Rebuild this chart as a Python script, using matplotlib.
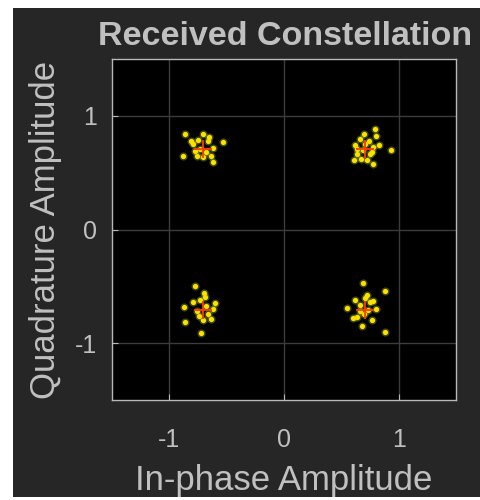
import numpy as np
import matplotlib
matplotlib.use('Agg')
import matplotlib.pyplot as plt
from matplotlib.patches import Rectangle

# Received symbols (in-phase / quadrature)
rx_i = [
    # upper left
    -0.79, -0.75, -0.71, -0.66, -0.78, -0.68, -0.62, -0.73, -0.65, -0.81, -0.64, -0.71, -0.76, -0.88, -0.53, -0.62, -0.86,
    # upper right
    0.62, 0.66, 0.70, 0.74, 0.78, 0.64, 0.69, 0.75, 0.80, 0.67, 0.72, 0.77, 0.64, 0.71, 0.93, 0.79, 0.61, 0.78, 0.83,
    # lower left
    -0.78, -0.69, -0.60, -0.87, -0.86, -0.72, -0.64, -0.73, -0.68, -0.76, -0.66, -0.71, -0.79, -0.62, -0.70, -0.74,
    # lower right
    0.69, 0.88, 0.88, 0.55, 0.62, 0.66, 0.71, 0.75, 0.80, 0.64, 0.70, 0.77, 0.68, 0.73, 0.60, 0.78, 0.72, 0.66,
]
rx_q = [
    0.75, 0.79, 0.84, 0.78, 0.69, 0.68, 0.72, 0.71, 0.81, 0.78, 0.65, 0.64, 0.65, 0.65, 0.77, 0.59, 0.84,
    0.74, 0.80, 0.84, 0.78, 0.73, 0.66, 0.70, 0.66, 0.82, 0.62, 0.61, 0.68, 0.71, 0.75, 0.70, 0.88, 0.61, 0.58, 0.74,
    -0.50, -0.59, -0.65, -0.68, -0.81, -0.91, -0.79, -0.62, -0.67, -0.72, -0.74, -0.80, -0.64, -0.70, -0.56, -0.76,
    -0.47, -0.54, -0.90, -0.69, -0.62, -0.66, -0.60, -0.64, -0.70, -0.77, -0.74, -0.80, -0.85, -0.71, -0.78, -0.63, -0.58, -0.72,
]

# Ideal QPSK reference points
ref_i = [-0.7071, 0.7071, -0.7071, 0.7071]
ref_q = [0.7071, 0.7071, -0.7071, -0.7071]

ticks = [-1, 0, 1]
txt = '#c0c0c0'

plt.rcParams['font.family'] = ['Liberation Sans', 'DejaVu Sans']
plt.rcParams['axes.unicode_minus'] = False

fig = plt.figure(figsize=(4.8, 5.0), dpi=100)
fig.patch.set_facecolor('white')
fig.patches.append(Rectangle((13 / 480, 3 / 500), 1 - 13 / 480, 489 / 500,
                             transform=fig.transFigure, facecolor='#262626',
                             edgecolor='none', zorder=-10))

ax = fig.add_axes([112 / 480, 1 - 400 / 500, 344 / 480, 341 / 500])
ax.set_facecolor('black')

ax.scatter(rx_i, rx_q, s=34, color='#9cc000', alpha=0.4, linewidths=0, zorder=2)
ax.scatter(rx_i, rx_q, s=14, color='#ffe000', linewidths=0, zorder=3)
ax.plot(ref_i, ref_q, '+', color='#ff3a10', markersize=13, mew=1.3, zorder=4)

ax.set_xlim(-1.5, 1.5)
ax.set_ylim(-1.5, 1.5)
ax.set_xticks(ticks)
ax.set_yticks(ticks)
ax.grid(True, color='#3c3c3c', linewidth=1)
ax.set_axisbelow(True)
for sp in ax.spines.values():
    sp.set_color('#b8b8b8')
    sp.set_linewidth(1)
ax.tick_params(direction='in', colors='#b8b8b8', labelcolor=txt, labelsize=18, length=4)
ax.tick_params(axis='x', pad=20)
ax.tick_params(axis='y', pad=11)

ax.set_xlabel('In-phase Amplitude', color=txt, fontsize=25, labelpad=9)
ax.set_ylabel('Quadrature Amplitude', color=txt, fontsize=25, labelpad=9)
ax.set_title('Received Constellation', color=txt, fontsize=24.5, fontweight='bold', pad=10, x=0.503)

fig.savefig('out.png', dpi=100, facecolor=fig.get_facecolor())
